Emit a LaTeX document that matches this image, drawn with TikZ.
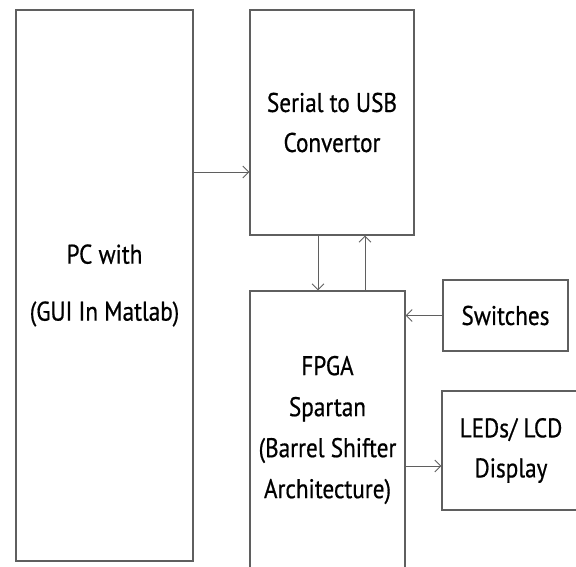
\documentclass[tikz,border=0pt]{standalone}
\usepackage{fontspec}
\setmainfont{PT Sans}[FakeStretch=0.86, FakeBold=0.6]
\usepackage{tikz}
\usetikzlibrary{arrows.meta}
\definecolor{boxgray}{RGB}{95, 95, 95}
\tikzset{
  blockbox/.style={draw=boxgray, line width=1.2pt, fill=white, align=center,
    inner sep=0pt, font=\fontsize{27}{40}\selectfont},
  flow/.style={-{Straight Barb[length=6pt, width=12pt]}, draw=boxgray, line width=0.9pt}
}

\begin{document}
\begin{tikzpicture}[x=1pt, y=-1pt]

  \useasboundingbox (0,0) rectangle (576,567);

  % ── Blocks ────────────────────────────────────────────────────────────────
  \node[blockbox, minimum width=177pt, minimum height=551pt,
        font=\fontsize{27}{57}\selectfont] (pc) at (104.5, 285.5)
    {PC with\\(GUI In Matlab)};
  \node[blockbox, minimum width=164pt, minimum height=225pt] (usb) at (332, 122.5)
    {Serial to USB\\Convertor};
  \node[blockbox, minimum width=155pt, minimum height=278pt,
        font=\fontsize{27}{41}\selectfont] (fpga) at (327.5, 430)
    {FPGA\\Spartan\\(Barrel Shifter\\Architecture)};
  \node[blockbox, minimum width=125pt, minimum height=71pt] (sw) at (505.5, 315.5)
    {Switches};
  \node[blockbox, minimum width=138pt, minimum height=119pt] (led) at (511, 450.5)
    {LEDs/ LCD\\Display};

  % ── Helper points for the connectors ──────────────────────────────────────
  \coordinate (pcout) at ([yshift=-49.5pt]usb.west);
  \coordinate (down) at ([xshift=-14pt]usb.south);
  \coordinate (up) at ([xshift=33pt]usb.south);
  \coordinate (ledin) at ([yshift=-15.5pt]led.west);

  % ── Connectors ────────────────────────────────────────────────────────────
  \draw[flow] (pcout -| pc.east) -- (pcout);
  \draw[flow] (down) -- (down |- fpga.north);
  \draw[flow] (up |- fpga.north) -- (up);
  \draw[flow] (sw.west) -- (sw.west -| fpga.east);
  \draw[flow] (ledin -| fpga.east) -- (ledin);

\end{tikzpicture}
\end{document}
